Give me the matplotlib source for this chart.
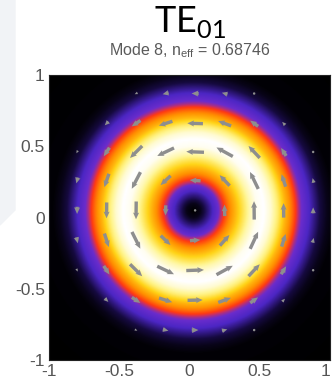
import numpy as np
import matplotlib
matplotlib.use('Agg')
import matplotlib.pyplot as plt
from matplotlib.colors import LinearSegmentedColormap
from matplotlib.patches import Polygon

# radial intensity profile of the mode (normalised)
radius = [0.0, 0.05, 0.1, 0.15, 0.2, 0.25, 0.3, 0.35, 0.4, 0.45, 0.5,
          0.55, 0.6, 0.65, 0.7, 0.75, 0.8, 0.85, 0.9, 0.95, 1.0, 1.5]
intensity = [0.0, 0.04, 0.16, 0.28, 0.42, 0.55, 0.66, 0.78, 0.9, 0.98, 1.0,
             0.94, 0.82, 0.66, 0.54, 0.4, 0.3, 0.2, 0.1, 0.04, 0.01, 0.0]
ring_center = (0.025, 0.045)

# positions of the field arrows
qx = [-0.8, -0.59, -0.38, -0.17, 0.04, 0.25, 0.46, 0.67, 0.88]
qy = [-0.79, -0.58, -0.37, -0.16, 0.05, 0.26, 0.46, 0.66, 0.87]

title = 'TE$_\\mathregular{01}$'
subtitle = 'Mode 8, n$_\\mathregular{eff}$ = 0.68746'
ticks = [-1, -0.5, 0, 0.5, 1]
tick_labels = ['-1', '-0.5', '0', '0.5', '1']

cmap = LinearSegmentedColormap.from_list('mode', [
    (0.0, '#000000'), (0.1, '#160a40'), (0.25, '#4c26c4'), (0.36, '#6a2ccc'),
    (0.43, '#d0305a'), (0.47, '#ff3a12'), (0.58, '#ff9000'), (0.72, '#ffd418'),
    (0.86, '#fff590'), (1.0, '#ffffff')])

fig = plt.figure(figsize=(3.32, 3.85), dpi=100)
# light slide background strip on the left
fig.patches.append(Polygon([[0, 1], [15 / 332, 1], [15 / 332, 1 - 210 / 385],
                            [0, 1 - 225 / 385]], closed=True,
                           transform=fig.transFigure, color='#f1f3f6', zorder=0))

ax = fig.add_axes([0.1476, 0.0649, 0.8464, 0.7403])

g = np.linspace(-1, 1, 400)
X, Y = np.meshgrid(g, g)
R = np.hypot(X - ring_center[0], Y - ring_center[1])
img = np.interp(R, radius, intensity)
ax.imshow(img, extent=[-1, 1, -1, 1], origin='lower', cmap=cmap, vmin=0, vmax=1,
          aspect='auto', interpolation='bilinear')

# azimuthal electric field, counter-clockwise
QX, QY = np.meshgrid(qx, qy)
dx = QX - ring_center[0]
dy = QY - ring_center[1]
rq = np.hypot(dx, dy)
amp = np.interp(rq, radius, intensity) ** 0.7
keep = rq < 1.0
rs = np.where(rq > 0, rq, 1)
U = -dy / rs * amp
V = dx / rs * amp
ax.quiver(QX[keep], QY[keep], U[keep], V[keep], color='#8e8e8e', angles='xy',
          scale_units='xy', scale=7.5, pivot='middle', width=0.012,
          headwidth=1.8, headlength=2.0, headaxislength=1.8, minlength=0.8)

ax.set_xlim(-1, 1)
ax.set_ylim(-1, 1)
ax.set_xticks(ticks)
ax.set_xticklabels(tick_labels)
ax.set_yticks(ticks)
ax.set_yticklabels(tick_labels)
ax.tick_params(length=0, labelsize=12.5, labelcolor='#555555', pad=3,
               labelfontfamily='Liberation Sans')
ax.get_xticklabels()[-1].set_ha('right')
for s in ax.spines.values():
    s.set_color('#222222')
    s.set_linewidth(0.8)

fig.text(0.572, 0.917, title, ha='center', va='baseline', fontsize=26,
         family='Lato', color='black')
fig.text(0.572, 0.857, subtitle, ha='center', va='baseline', fontsize=11.5,
         family='Liberation Sans', color='#5a5a5a')

fig.savefig('out.png', dpi=100)
